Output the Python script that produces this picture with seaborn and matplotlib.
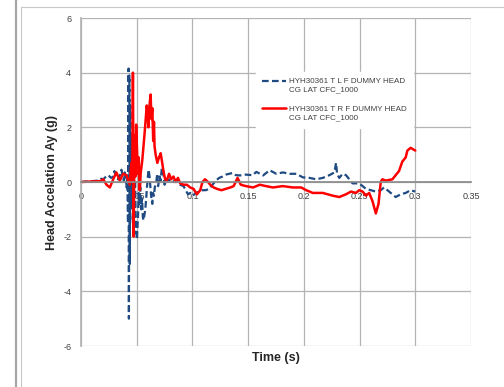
import matplotlib

matplotlib.use("Agg")

import matplotlib.pyplot as plt
import numpy as np
import pandas as pd
import seaborn as sns
from matplotlib.legend_handler import HandlerLine2D
from matplotlib.lines import Line2D

# Left front dummy (blue, dashed)
blue_t = [
    0.0, 0.005, 0.010, 0.015, 0.018, 0.020, 0.0225, 0.0245, 0.027, 0.029,
    0.030, 0.0315, 0.0333, 0.035, 0.0363, 0.0375, 0.0385, 0.0393, 0.0401, 0.041,
    0.0415, 0.0422, 0.0427, 0.0430, 0.0434, 0.0438, 0.0442, 0.0446, 0.0450, 0.0455,
    0.0460, 0.0465, 0.0470, 0.0478, 0.0485, 0.0492, 0.0502, 0.0512, 0.0518, 0.0525,
    0.0532, 0.0540, 0.0548, 0.0555, 0.0562, 0.0577, 0.0585, 0.0592, 0.0600, 0.0607,
    0.0615, 0.0625, 0.0632, 0.0640, 0.0646, 0.0655, 0.0662, 0.0676, 0.0684, 0.0692,
    0.0705, 0.0715, 0.0725, 0.0735, 0.0750, 0.0770, 0.0790, 0.0810, 0.0830, 0.0860,
    0.0890, 0.0920, 0.0940, 0.0960, 0.0980, 0.1003, 0.1030, 0.1060, 0.1090, 0.1120,
    0.1150, 0.1180, 0.1210, 0.1240, 0.1270, 0.1300, 0.1330, 0.1360, 0.1390, 0.1426,
    0.1480, 0.1540, 0.1574, 0.1634, 0.1693, 0.1753, 0.1812, 0.1872, 0.1932, 0.1991,
    0.2051, 0.2110, 0.2170, 0.2229, 0.2274, 0.2289, 0.2298, 0.2318, 0.2348, 0.2378,
    0.2408, 0.2437, 0.2482, 0.2512, 0.2557, 0.2601, 0.2646, 0.2690, 0.2720, 0.2765,
    0.2824, 0.2869, 0.2914, 0.2958, 0.3000,
]
blue_ay = [
    0.0, 0.02, 0.03, 0.05, 0.12, 0.10, 0.20, 0.25, 0.15, 0.20,
    0.40, 0.15, 0.10, 0.25, 0.45, 0.20, 0.05, 0.35, 0.20, -0.20,
    0.30, -1.50, 4.15, -5.00, 3.90, -3.00, 2.80, -1.00, 1.70, -0.80,
    0.50, -1.50, 0.20, -1.90, 0.10, -1.60, -2.10, -1.20, -0.40, -0.80,
    -0.20, -1.00, -0.60, -1.30, -1.40, -1.00, -0.60, -0.20, 0.20, 0.45,
    0.20, -0.30, -0.60, -0.80, -0.40, -0.50, -0.20, 0.00, 0.30, -0.15,
    0.20, 0.05, 0.50, 0.50, -0.10, 0.10, 0.05, 0.15, 0.00, 0.05,
    -0.10, -0.15, -0.30, -0.45, -0.40, -0.50, -0.40, -0.35, -0.30, -0.30,
    -0.25, -0.10, 0.05, 0.15, 0.20, 0.27, 0.30, 0.33, 0.25, 0.24,
    0.27, 0.25, 0.37, 0.24, 0.43, 0.30, 0.35, 0.30, 0.30, 0.17,
    0.15, 0.10, 0.15, 0.25, 0.35, 0.70, 0.30, 0.15, 0.30, 0.25,
    0.10, -0.05, -0.05, -0.10, -0.25, -0.30, -0.35, -0.30, -0.20, -0.35,
    -0.55, -0.45, -0.40, -0.30, -0.35,
]

# Right front dummy (red, solid)
red_t = [
    0.0, 0.005, 0.010, 0.017, 0.020, 0.0229, 0.0259, 0.0289, 0.0318, 0.0348,
    0.0378, 0.0408, 0.0437, 0.0452, 0.0460, 0.0466, 0.0473, 0.0480, 0.0488, 0.0495,
    0.0500, 0.0510, 0.0518, 0.0525, 0.0530, 0.0535, 0.0550, 0.0565, 0.0575, 0.0590,
    0.0598, 0.0605, 0.0612, 0.0625, 0.0632, 0.0640, 0.0648, 0.0655, 0.0660, 0.0670,
    0.0685, 0.0700, 0.0715, 0.0725, 0.0740, 0.0755, 0.0770, 0.0790, 0.0810, 0.0830,
    0.0850, 0.0870, 0.0890, 0.0920, 0.0950, 0.0980, 0.1010, 0.1040, 0.1070, 0.1090,
    0.1113, 0.1140, 0.1160, 0.1190, 0.1220, 0.1260, 0.1300, 0.1340, 0.1370, 0.1405,
    0.1434, 0.1480, 0.1545, 0.1604, 0.1660, 0.1723, 0.1810, 0.1902, 0.1976, 0.2021,
    0.2080, 0.2170, 0.2259, 0.2318, 0.2378, 0.2423, 0.2467, 0.2497, 0.2527, 0.2557,
    0.2586, 0.2616, 0.2646, 0.2670, 0.2690, 0.2705, 0.2735, 0.2795, 0.2824, 0.2854,
    0.2884, 0.2914, 0.2929, 0.2958, 0.3000,
]
red_ay = [
    0.0, 0.01, 0.02, 0.03, 0.10, -0.10, -0.20, 0.10, 0.35, 0.05,
    0.30, 0.25, -0.10, 0.70, 0.00, 4.00, -2.00, 1.70, 0.20, 2.10,
    1.50, 0.30, 0.90, -0.30, -0.20, 0.30, 0.80, 1.50, 2.00, 2.80,
    2.50, 2.00, 2.70, 3.20, 2.30, 2.70, 1.50, 2.20, 1.30, 1.00,
    0.70, 0.90, 1.05, 0.80, 0.40, 0.10, 0.05, 0.30, 0.10, 0.20,
    0.00, 0.15, -0.05, -0.10, -0.10, -0.20, -0.25, -0.45, -0.30, 0.00,
    0.10, 0.00, -0.10, -0.20, -0.25, -0.30, -0.25, -0.20, -0.15, 0.15,
    -0.10, -0.15, -0.20, -0.10, -0.15, -0.20, -0.15, -0.20, -0.20, -0.30,
    -0.40, -0.40, -0.50, -0.55, -0.45, -0.35, -0.40, -0.30, -0.35, -0.50,
    -0.40, -0.70, -1.15, -0.80, 0.00, 0.10, 0.05, 0.10, 0.25, 0.40,
    0.75, 0.90, 1.15, 1.25, 1.15,
]

x_ticks = [0, 0.05, 0.1, 0.15, 0.2, 0.25, 0.3, 0.35]
x_tick_labels = ["0", "0.05", "0.1", "0.15", "0.2", "0.25", "0.3", "0.35"]
y_ticks = [-6, -4, -2, 0, 2, 4, 6]

label_left = "HYH30361 T L F DUMMY HEAD\nCG LAT CFC_1000"
label_right = "HYH30361 T R F DUMMY HEAD\nCG LAT CFC_1000"

BLUE = "#1f4a82"
RED = "#ff0000"
GRID = "#b3b3b3"
TICK_TXT = "#404040"


class FirstLineHandler(HandlerLine2D):
    # Excel puts the legend key level with the first text line
    def create_artists(self, legend, orig_handle, xdescent, ydescent,
                       width, height, fontsize, trans):
        arts = super().create_artists(legend, orig_handle, xdescent, ydescent,
                                      width, height, fontsize, trans)
        for a in arts:
            a.set_ydata(np.asarray(a.get_ydata()) + 0.62 * fontsize)
        return arts


sns.set_theme(style="white")
plt.rcParams["font.family"] = ["Liberation Sans", "DejaVu Sans"]
plt.rcParams["axes.unicode_minus"] = False

fig = plt.figure(figsize=(5.04, 3.87), dpi=100)
ax = fig.add_axes([81 / 504, 1 - 346 / 387, 390 / 504, 328 / 387])

left_df = pd.DataFrame({"t": blue_t, "ay": blue_ay})
right_df = pd.DataFrame({"t": red_t, "ay": red_ay})

sns.lineplot(data=left_df, x="t", y="ay", ax=ax, color=BLUE, lw=1.6,
             linestyle=(0, (3, 1.5)), sort=False, estimator=None, label=label_left)
sns.lineplot(data=right_df, x="t", y="ay", ax=ax, color=RED, lw=1.8,
             sort=False, estimator=None, label=label_right)

ax.set_xlim(0, 0.35)
ax.set_ylim(-6, 6)
ax.set_xticks(x_ticks)
ax.set_xticklabels(x_tick_labels)
ax.set_yticks(y_ticks)
ax.grid(True, color=GRID, lw=0.9)
ax.set_axisbelow(True)

for side in ["top", "right"]:
    ax.spines[side].set_visible(False)
ax.spines["left"].set_color(GRID)
ax.spines["bottom"].set_position(("data", 0))
ax.spines["bottom"].set_color("#8c8c8c")
ax.tick_params(axis="both", length=0, labelsize=6.5, labelcolor=TICK_TXT)
ax.tick_params(axis="x", pad=7)
ax.tick_params(axis="y", pad=7)

ax.set_xlabel("Time (s)", fontsize=9, fontweight="bold")
ax.set_ylabel("Head Accelation Ay (g)", fontsize=9, fontweight="bold")
ax.xaxis.set_label_coords(0.5, -0.018)
ax.yaxis.set_label_coords(-0.06, 0.5)

handles, labels = ax.get_legend_handles_labels()
leg = ax.legend(handles, labels, loc="upper left", bbox_to_anchor=(0.438, 0.848),
                fontsize=5.8, frameon=True, facecolor="white", edgecolor="white",
                framealpha=1, handlelength=3.0, handletextpad=0.3, labelspacing=1.6,
                borderpad=0.8, fancybox=False,
                handler_map={h: FirstLineHandler() for h in handles})
for txt in leg.get_texts():
    txt.set_color(TICK_TXT)

# page frame lines around the chart
fig.add_artist(Line2D([16 / 504, 16 / 504], [0, 1], color="#a6a6a6", lw=1.6))
fig.add_artist(Line2D([21 / 504, 21 / 504], [0, 1 - 7 / 387], color="#c8c8c8", lw=0.8))
fig.add_artist(Line2D([21 / 504, 1], [1 - 7 / 387, 1 - 7 / 387], color="#c8c8c8", lw=0.8))

fig.savefig("out.png", dpi=100)
